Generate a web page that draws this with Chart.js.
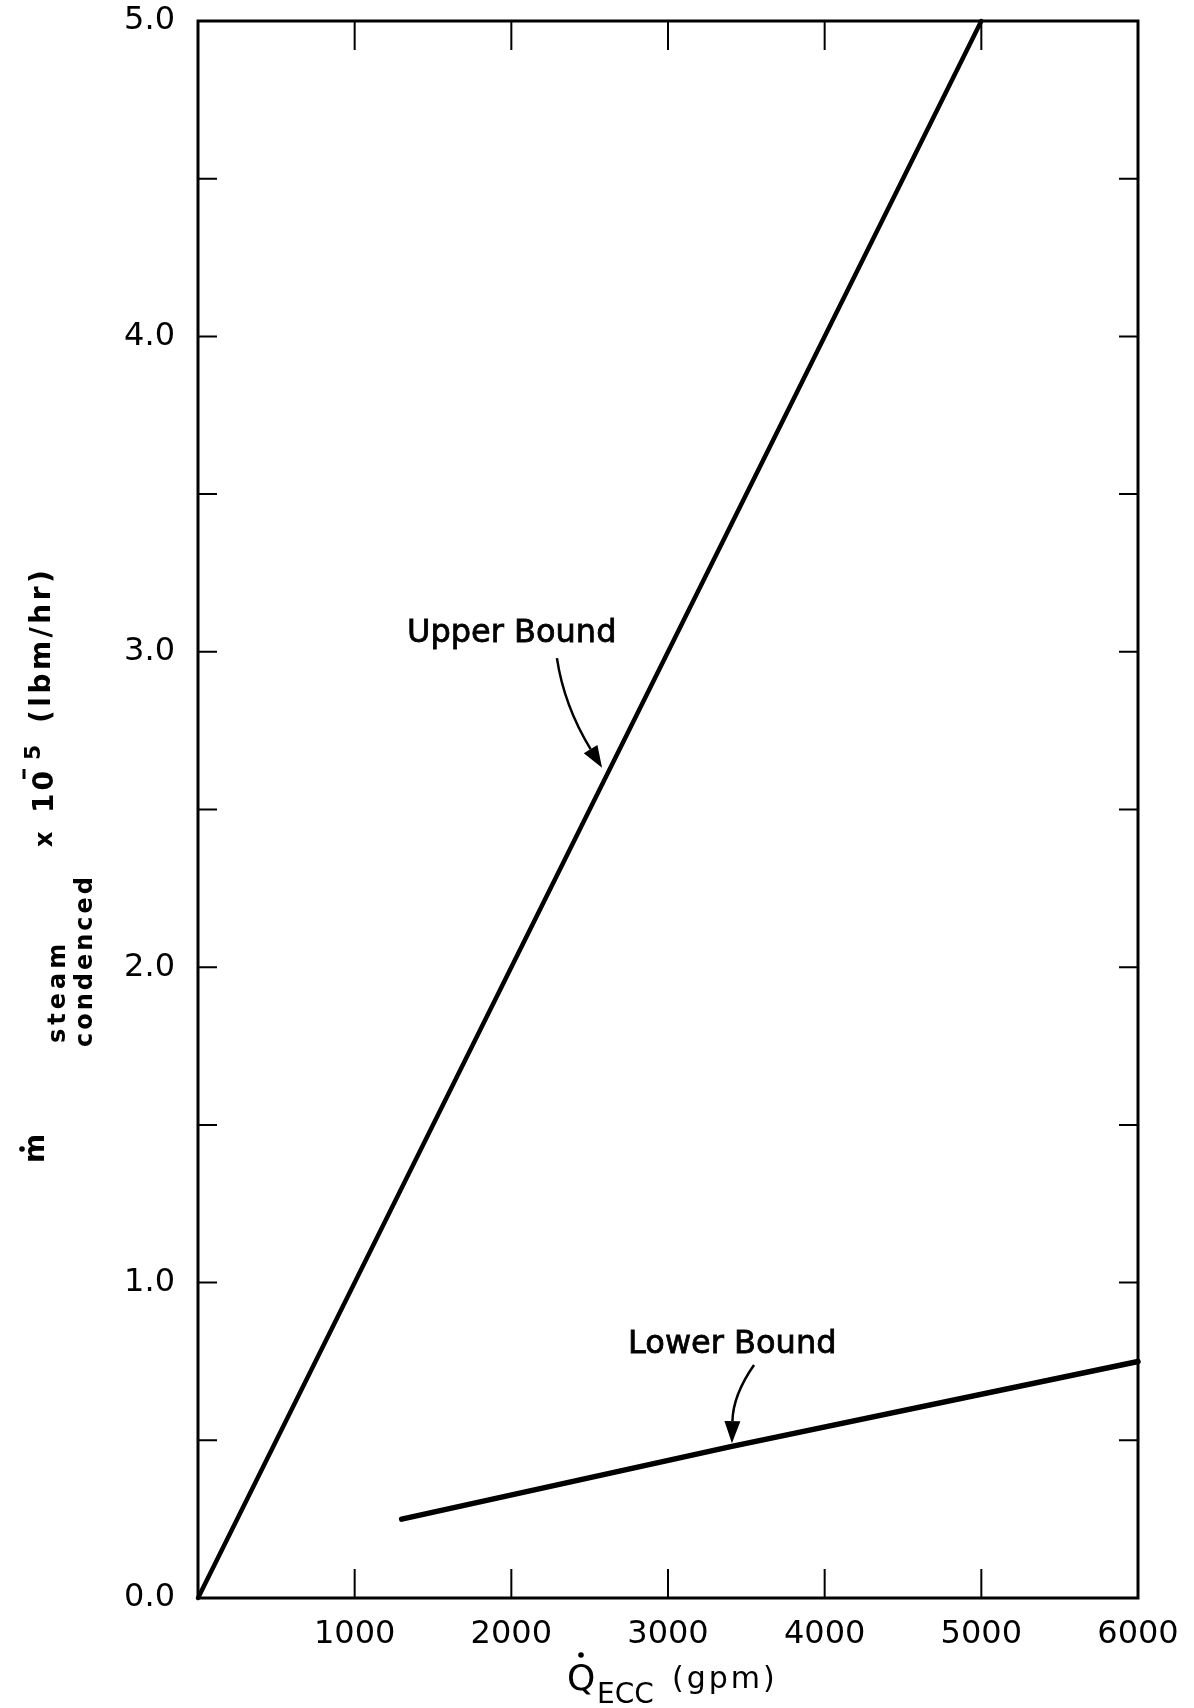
<!DOCTYPE html>
<html lang="en">
<head>
<meta charset="UTF-8" />
<title>Steam condensed vs ECC flow</title>
<script src="https://cdn.jsdelivr.net/npm/chart.js@4"></script>
<style>
  body { margin: 0; background: #fff; }
  canvas { display: block; }
</style>
</head>
<body>
<canvas id="myChart" width="1194" height="1708"></canvas>
<script>
// Q_ECC in gpm, m_steam condensed in lbm/hr x 10^-5
const upperQ = [0, 5000];
const upperM = [0.0, 5.0];
const lowerQ = [1300, 3400, 6000];
const lowerM = [0.25, 0.48, 0.75];

const xTickLabels = ["1000", "2000", "3000", "4000", "5000", "6000"];
const yTickLabels = ["0.0", "1.0", "2.0", "3.0", "4.0", "5.0"];

// curve labels and their arrows, in data units [Q, m]
const noteTexts = ["Upper Bound", "Lower Bound"];
const noteAt = [[1334, 3.03], [2745, 0.777]];
const arrowFrom = [[2291, 2.98], [3549, 0.739]];
const arrowBend = [[2336, 2.83], [3415, 0.644]];
const arrowTip = [[2579, 2.632], [3408, 0.491]];

const FONT = "'DejaVu Sans', sans-serif";
Chart.defaults.font.family = FONT;
Chart.defaults.color = "#000";

const toPoints = (xs, ys) => xs.map((x, i) => ({ x: x, y: ys[i] }));

// box, inward ticks on all four sides
const framePlugin = {
  id: "frame",
  afterDraw(chart) {
    const { ctx, chartArea: a, scales } = chart;
    ctx.save();
    ctx.strokeStyle = "#000";
    ctx.lineWidth = 3;
    ctx.strokeRect(a.left, a.top, a.right - a.left, a.bottom - a.top);
    ctx.lineWidth = 2;
    ctx.beginPath();
    scales.x.ticks.forEach((t) => {
      if (t.value <= scales.x.min || t.value >= scales.x.max) return;
      const px = scales.x.getPixelForValue(t.value);
      ctx.moveTo(px, a.bottom);
      ctx.lineTo(px, a.bottom - 29);
      ctx.moveTo(px, a.top);
      ctx.lineTo(px, a.top + 29);
    });
    scales.y.ticks.forEach((t) => {
      if (t.value <= scales.y.min || t.value >= scales.y.max) return;
      const py = scales.y.getPixelForValue(t.value);
      ctx.moveTo(a.left, py);
      ctx.lineTo(a.left + 19, py);
      ctx.moveTo(a.right, py);
      ctx.lineTo(a.right - 19, py);
    });
    ctx.stroke();
    ctx.restore();
  },
};

// "Upper Bound" / "Lower Bound" with curved arrows
const notesPlugin = {
  id: "notes",
  afterDraw(chart) {
    const { ctx, scales } = chart;
    const px = (p) => [scales.x.getPixelForValue(p[0]), scales.y.getPixelForValue(p[1])];
    ctx.save();
    ctx.fillStyle = "#000";
    ctx.strokeStyle = "#000";
    noteTexts.forEach((txt, i) => {
      const [tx, ty] = px(noteAt[i]);
      ctx.font = "32px " + FONT;
      ctx.textAlign = "left";
      ctx.textBaseline = "alphabetic";
      ctx.lineWidth = 0.8;
      ctx.fillText(txt, tx, ty);
      ctx.strokeText(txt, tx, ty);

      const [x0, y0] = px(arrowFrom[i]);
      const [cx, cy] = px(arrowBend[i]);
      const [x1, y1] = px(arrowTip[i]);
      const ang = Math.atan2(y1 - cy, x1 - cx);
      const len = 22, half = 8;
      const bx = x1 - len * Math.cos(ang), by = y1 - len * Math.sin(ang);
      ctx.lineWidth = 2.5;
      ctx.beginPath();
      ctx.moveTo(x0, y0);
      ctx.quadraticCurveTo(cx, cy, bx, by);
      ctx.stroke();
      ctx.beginPath();
      ctx.moveTo(x1, y1);
      ctx.lineTo(bx + half * Math.sin(ang), by - half * Math.cos(ang));
      ctx.lineTo(bx - half * Math.sin(ang), by + half * Math.cos(ang));
      ctx.closePath();
      ctx.fill();
    });
    ctx.restore();
  },
};

// axis titles with dots, subscripts and superscript
const titlesPlugin = {
  id: "titles",
  afterDraw(chart) {
    const ctx = chart.ctx;
    ctx.save();
    ctx.fillStyle = "#000";
    ctx.strokeStyle = "#000";
    ctx.textAlign = "left";
    ctx.textBaseline = "alphabetic";

    // x title: Q-dot ECC (gpm)
    ctx.font = "36px " + FONT;
    ctx.fillText("Q", 567, 1690);
    ctx.beginPath();
    ctx.arc(581, 1655, 2.8, 0, Math.PI * 2);
    ctx.fill();
    ctx.font = "28px " + FONT;
    ctx.fillText("ECC", 597, 1703);
    ctx.font = "30px " + FONT;
    ctx.letterSpacing = "3px";
    ctx.fillText("(gpm)", 672, 1688);
    ctx.letterSpacing = "0px";

    // y title, rotated, reading upward
    ctx.translate(44, 1163);
    ctx.rotate(-Math.PI / 2);
    ctx.font = "bold 28px " + FONT;
    ctx.fillText("m", 0, 0);
    ctx.beginPath();
    ctx.arc(14, -22, 2.8, 0, Math.PI * 2);
    ctx.fill();
    ctx.font = "bold 24px " + FONT;
    ctx.letterSpacing = "4px";
    ctx.fillText("steam", 120, 21);
    ctx.letterSpacing = "3px";
    ctx.fillText("condenced", 116, 48);
    ctx.letterSpacing = "0px";
    ctx.font = "bold 24px " + FONT;
    ctx.fillText("x", 316, 8);
    ctx.font = "bold 28px " + FONT;
    ctx.letterSpacing = "3px";
    ctx.fillText("10", 350, 9);
    ctx.letterSpacing = "0px";
    ctx.lineWidth = 3;
    ctx.beginPath();
    ctx.moveTo(384, -20);
    ctx.lineTo(394, -20);
    ctx.stroke();
    ctx.font = "bold 22px " + FONT;
    ctx.fillText("5", 403, -4);
    ctx.font = "bold 28px " + FONT;
    ctx.letterSpacing = "3.5px";
    ctx.fillText("(lbm/hr)", 440, 6);
    ctx.restore();
  },
};

const myChart = new Chart(document.getElementById("myChart").getContext("2d"), {
  type: "line",
  data: {
    datasets: [
      {
        label: "Upper Bound",
        data: toPoints(upperQ, upperM),
        borderColor: "#000",
        borderWidth: 4.5,
        borderCapStyle: "round",
        pointRadius: 0,
        fill: false,
      },
      {
        label: "Lower Bound",
        data: toPoints(lowerQ, lowerM),
        borderColor: "#000",
        borderWidth: 5.5,
        borderCapStyle: "round",
        pointRadius: 0,
        fill: false,
      },
    ],
  },
  options: {
    responsive: false,
    animation: false,
    clip: false,
    layout: { padding: { top: 21, right: 56, left: 0, bottom: 0 } },
    plugins: { legend: { display: false }, tooltip: { enabled: false } },
    scales: {
      x: {
        type: "linear",
        min: 0,
        max: 6000,
        grid: { display: false, drawTicks: false },
        border: { display: false },
        ticks: {
          stepSize: 1000,
          padding: 17,
          maxRotation: 0,
          font: { size: 32 },
          callback: (v) => xTickLabels.find((s) => Number(s) === v) || "",
        },
        afterFit: (s) => {
          s.height = 110;
          s.paddingLeft = 0;
          s.paddingRight = 0;
        },
      },
      y: {
        min: 0,
        max: 5,
        grid: { display: false, drawTicks: false },
        border: { display: false },
        ticks: {
          stepSize: 0.5,
          padding: 23,
          font: { size: 32 },
          callback: (v) => yTickLabels.find((s) => Number(s) === v) || "",
        },
        afterFit: (s) => {
          s.width = 198;
          s.paddingTop = 0;
          s.paddingBottom = 0;
        },
      },
    },
  },
  plugins: [framePlugin, notesPlugin, titlesPlugin],
});
</script>
</body>
</html>
